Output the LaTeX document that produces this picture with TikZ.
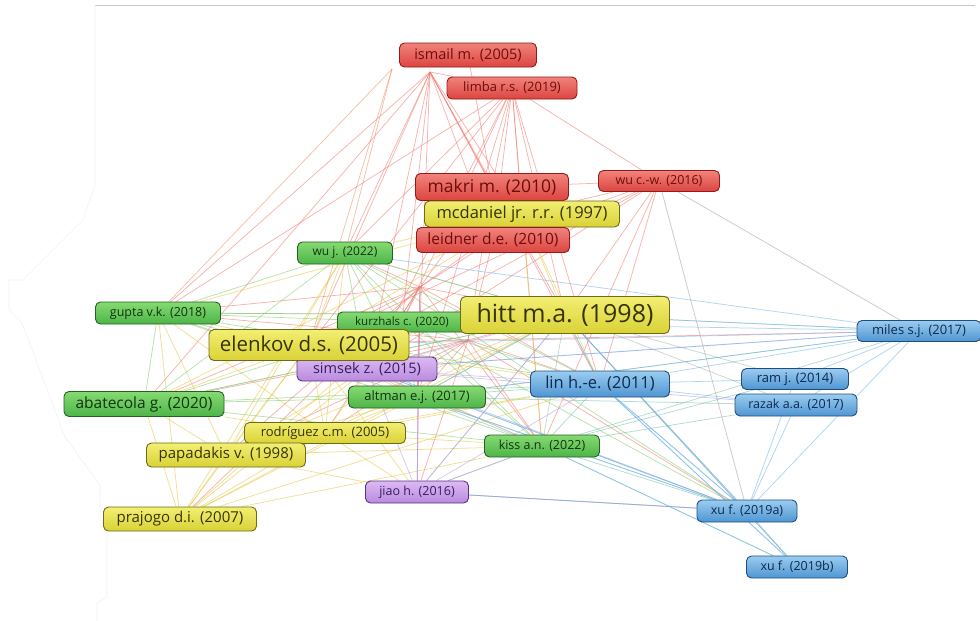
\documentclass[tikz,border=0pt]{standalone}
\usepackage{fontspec}
\setmainfont{Open Sans}
\usetikzlibrary{backgrounds}
\newcommand{\fs}[1]{\fontsize{#1}{#1}\selectfont}
\definecolor{edgered}{HTML}{F2746B}
\definecolor{edgeyel}{HTML}{E6C43C}
\definecolor{edgegrn}{HTML}{7CCB68}
\definecolor{edgepur}{HTML}{B79AE6}
\definecolor{edgeblu}{HTML}{6CB2E8}
\tikzset{
  paper/.style={rounded corners=5pt, inner sep=0pt, line width=0.9pt},
  redpaper/.style={paper, draw={rgb,255:red,150;green,24;blue,24}, top color={rgb,255:red,240;green,131;blue,123}, bottom color={rgb,255:red,220;green,69;blue,64}, text={rgb,255:red,110;green,12;blue,12}},
  yelpaper/.style={paper, draw={rgb,255:red,110;green,106;blue,24}, top color={rgb,255:red,242;green,238;blue,114}, bottom color={rgb,255:red,217;green,210;blue,54}, text={rgb,255:red,55;green,52;blue,4}},
  grnpaper/.style={paper, draw={rgb,255:red,36;green,96;blue,34}, top color={rgb,255:red,134;green,218;blue,114}, bottom color={rgb,255:red,77;green,181;blue,72}, text={rgb,255:red,16;green,52;blue,14}},
  purpaper/.style={paper, draw={rgb,255:red,84;green,54;blue,128}, top color={rgb,255:red,221;green,185;blue,243}, bottom color={rgb,255:red,185;green,138;blue,222}, text={rgb,255:red,52;green,32;blue,96}},
  blupaper/.style={paper, draw={rgb,255:red,30;green,78;blue,128}, top color={rgb,255:red,154;green,204;blue,240}, bottom color={rgb,255:red,79;green,149;blue,210}, text={rgb,255:red,12;green,42;blue,78}},
  link/.style={line width=0.75pt, opacity=0.55},
}
\begin{document}
\begin{tikzpicture}[x=1pt,y=-1pt]
\useasboundingbox (0,0) rectangle (980,621);
% screen frame
\draw[gray!45, line width=0.8pt] (95,5) -- (975,5);
\draw[gray!10, line width=0.6pt] (95,5) -- (95,185) -- (83,220) -- (23,280) -- (9,280) -- (9,310)
  -- (22,323) -- (65,437) -- (100,485) -- (100,517) -- (107,533) -- (107,597) -- (97,603) -- (97,621);

% red cluster
\node[redpaper, minimum width=137, minimum height=24, font=\fs{14.5}] (ismail) at (468,55) {ismail m. (2005)};
\node[redpaper, minimum width=130, minimum height=22, font=\fs{13}] (limba) at (512,88) {limba r.s. (2019)};
\node[redpaper, minimum width=153, minimum height=27, font=\fs{17.5}] (makri) at (492,187) {makri m. (2010)};
\node[redpaper, minimum width=121, minimum height=21, font=\fs{12.5}] (wucw) at (659,181) {wu c.-w. (2016)};
\node[yelpaper, minimum width=195, minimum height=26, font=\fs{16.5}] (mcdaniel) at (522,214) {mcdaniel jr. r.r. (1997)};
\node[redpaper, minimum width=153, minimum height=25, font=\fs{15.5}] (leidner) at (493,240) {leidner d.e. (2010)};
\coordinate (ismail-p) at (430,72);
\coordinate (ismail-q) at (392,69);
\coordinate (leidner-p) at (420,287);
\coordinate (makri-p) at (468,340);

% green cluster
\node[grnpaper, minimum width=95, minimum height=22, font=\fs{12}] (wuj) at (345,253) {wu j. (2022)};
\node[grnpaper, minimum width=125, minimum height=22, font=\fs{12.5}] (gupta) at (158,313) {gupta v.k. (2018)};
\node[grnpaper, minimum width=129, minimum height=20, font=\fs{11.5}] (kurzhals) at (402,322) {kurzhals c. (2020)};
\node[grnpaper, minimum width=160, minimum height=25, font=\fs{15.5}] (abatecola) at (144,404) {abatecola g. (2020)};
\node[grnpaper, minimum width=137, minimum height=22, font=\fs{13}] (altman) at (417,397) {altman e.j. (2017)};
\node[grnpaper, minimum width=115, minimum height=22, font=\fs{12.5}] (kiss) at (542,446) {kiss a.n. (2022)};

% purple cluster
\node[purpaper, minimum width=140, minimum height=24, font=\fs{14.5}] (simsek) at (367,369) {simsek z. (2015)};
\node[purpaper, minimum width=103, minimum height=22, font=\fs{12.5}] (jiao) at (417,492) {jiao h. (2016)};

% yellow cluster
\node[yelpaper, minimum width=200, minimum height=31, font=\fs{20.5}] (elenkov) at (309,345) {elenkov d.s. (2005)};
\node[yelpaper, minimum width=209, minimum height=37, font=\fs{25}] (hitt) at (565,315) {hitt m.a. (1998)};
\node[yelpaper, minimum width=161, minimum height=21, font=\fs{13}] (rodriguez) at (325,433) {rodríguez c.m. (2005)};
\node[yelpaper, minimum width=159, minimum height=24, font=\fs{15}] (papadakis) at (226,455) {papadakis v. (1998)};
\node[yelpaper, minimum width=153, minimum height=24, font=\fs{15}] (prajogo) at (180,519) {prajogo d.i. (2007)};

% blue cluster
\node[blupaper, minimum width=139, minimum height=26, font=\fs{16.5}] (lin) at (600,384) {lin h.-e. (2011)};
\node[blupaper, minimum width=124, minimum height=21, font=\fs{13}] (miles) at (919,331) {miles s.j. (2017)};
\node[blupaper, minimum width=107, minimum height=21, font=\fs{13}] (ram) at (795,379) {ram j. (2014)};
\node[blupaper, minimum width=122, minimum height=22, font=\fs{12.5}] (razak) at (796,405) {razak a.a. (2017)};
\node[blupaper, minimum width=100, minimum height=22, font=\fs{12.5}] (xufa) at (747,511) {xu f. (2019a)};
\node[blupaper, minimum width=101, minimum height=22, font=\fs{12.5}] (xufb) at (797,567) {xu f. (2019b)};

\begin{scope}[on background layer]
% red links
\foreach \b in {wuj,gupta,elenkov,kurzhals,simsek,abatecola,makri,leidner,hitt,altman,lin,mcdaniel,limba}
  \draw[link, edgered] (ismail-p) -- (\b);
\foreach \b in {gupta,wuj,elenkov}
  \draw[link, edgered!70!edgeyel] (ismail-q) -- (\b);
\draw[link, edgered] (ismail) -- (makri);
\foreach \b in {makri,leidner,mcdaniel,hitt,elenkov,kurzhals,wuj,simsek,lin,altman,wucw,gupta,kiss}
  \draw[link, edgered] (limba) -- (\b);
\foreach \b in {makri,mcdaniel,leidner,hitt,elenkov,lin,kurzhals,simsek,kiss}
  \draw[link, edgered] (wucw) -- (\b);
\draw[link, edgered!50!edgeblu] (wucw) -- (miles);
\draw[link, edgered!50!edgeblu] (wucw) -- (xufa);
\foreach \b in {gupta,abatecola,elenkov,kurzhals,simsek,altman,rodriguez,papadakis,prajogo,kiss,jiao,lin,hitt,wuj,leidner,makri,mcdaniel}
  \draw[link, edgered] (leidner-p) -- (\b);
\foreach \b in {hitt,lin,kiss,altman,simsek,elenkov,rodriguez,papadakis,jiao,xufa,miles,makri,leidner,abatecola,gupta}
  \draw[link, edgered] (makri-p) -- (\b);
% yellow links
\foreach \b in {papadakis,abatecola,gupta,elenkov,rodriguez,simsek,hitt,altman,kurzhals,lin,wuj,kiss}
  \draw[link, edgeyel] (prajogo) -- (\b);
\foreach \b in {gupta,abatecola,elenkov,rodriguez,hitt,simsek,altman,jiao,kiss,lin,wuj}
  \draw[link, edgeyel] (papadakis) -- (\b);
\foreach \b in {elenkov,hitt,altman,kiss,jiao,lin,gupta,abatecola,wuj,kurzhals}
  \draw[link, edgeyel] (rodriguez) -- (\b);
\foreach \b in {hitt,gupta,abatecola,wuj,altman,kiss,lin,jiao,kurzhals,mcdaniel}
  \draw[link, edgeyel] (elenkov) -- (\b);
\foreach \b in {miles,ram,razak,lin,kiss,xufa,xufb,jiao,altman,wuj,gupta,abatecola}
  \draw[link, edgeyel!40!edgeblu] (hitt) -- (\b);
\foreach \b in {hitt,wuj,gupta,kiss,lin,abatecola}
  \draw[link, edgeyel] (mcdaniel) -- (\b);
% green links
\foreach \b in {abatecola,wuj,kurzhals,altman,kiss,hitt,simsek,lin}
  \draw[link, edgegrn] (gupta) -- (\b);
\foreach \b in {kurzhals,altman,kiss,hitt,wuj,lin}
  \draw[link, edgegrn] (abatecola) -- (\b);
\foreach \b in {kurzhals,altman,kiss,hitt,lin,simsek,xufa}
  \draw[link, edgegrn] (wuj) -- (\b);
\foreach \b in {kiss,altman,hitt,lin,xufa}
  \draw[link, edgegrn] (kurzhals) -- (\b);
\foreach \b in {kiss,hitt,lin,xufa,razak,miles}
  \draw[link, edgegrn!50!edgeblu] (altman) -- (\b);
\foreach \b in {xufa,xufb,lin,ram,razak,miles,jiao}
  \draw[link, edgegrn!50!edgeblu] (kiss) -- (\b);
% purple links
\foreach \b in {hitt,lin,kiss,jiao,xufa,miles,razak,altman}
  \draw[link, edgepur] (simsek) -- (\b);
\foreach \b in {xufa,kiss,lin,altman,hitt,leidner-p}
  \draw[link, edgepur] (jiao) -- (\b);
\draw[link, gray!80] (jiao) -- (xufa);
% blue links
\foreach \b in {hitt,lin,ram,razak,xufa,elenkov,simsek,altman,kurzhals,wuj}
  \draw[link, edgeblu] (miles) -- (\b);
\foreach \b in {hitt,ram,razak,xufa,xufb}
  \draw[link, edgeblu] (lin) -- (\b);
\draw[link, edgeblu] (ram) -- (xufa);
\draw[link, edgeblu] (razak) -- (xufa);
\foreach \b in {xufb,lin,hitt,jiao,altman,elenkov,simsek}
  \draw[link, edgeblu] (xufa) -- (\b);
\foreach \b in {kiss,lin,hitt}
  \draw[link, edgeblu] (xufb) -- (\b);
\end{scope}
\end{tikzpicture}
\end{document}
